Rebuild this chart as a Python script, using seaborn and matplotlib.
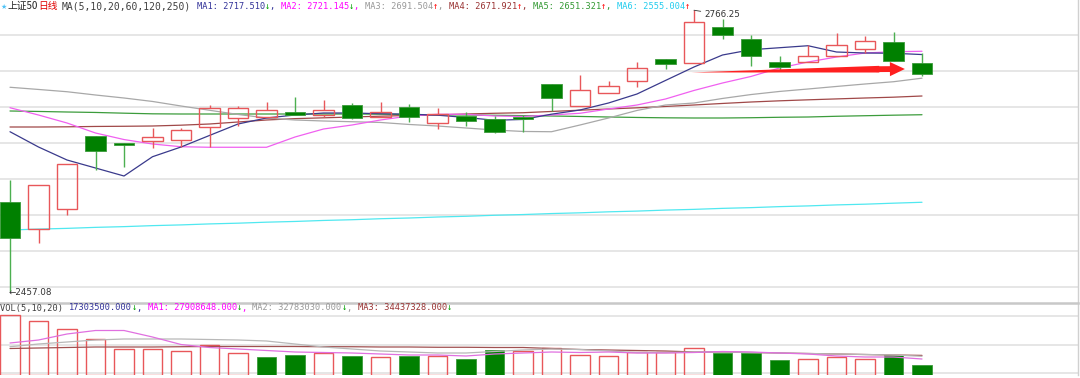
import numpy as np
import pandas as pd
import seaborn as sns
import matplotlib.pyplot as plt

# 上证50 daily candles (index points)
opens = [2555.0, 2525.6, 2547.6, 2627.9, 2620.5, 2622.4, 2623.2, 2638.1, 2647.4, 2648.5, 2654.6,
         2651.0, 2662.0, 2649.1, 2659.5, 2641.9, 2650.2, 2646.3, 2649.1, 2684.8, 2660.9, 2675.5,
         2688.4, 2712.6, 2707.9, 2748.1, 2734.6, 2709.6, 2709.0, 2715.9, 2723.9, 2731.0, 2708.5]
highs = [2579.5, 2574.0, 2596.8, 2627.9, 2620.5, 2636.4, 2637.0, 2662.0, 2661.2, 2665.6, 2671.1,
         2667.5, 2663.9, 2665.0, 2662.8, 2658.4, 2654.6, 2649.9, 2651.0, 2684.8, 2695.0, 2688.7,
         2709.6, 2712.6, 2766.25, 2756.6, 2739.0, 2715.9, 2728.0, 2740.9, 2738.2, 2742.6, 2718.9]
lows = [2457.08, 2510.2, 2541.0, 2590.5, 2594.1, 2614.4, 2615.5, 2615.5, 2638.9, 2648.5, 2651.0,
        2649.1, 2646.3, 2648.8, 2643.0, 2635.6, 2639.2, 2631.5, 2632.6, 2655.4, 2660.9, 2675.5,
        2681.5, 2701.3, 2707.9, 2734.6, 2705.2, 2700.5, 2709.0, 2715.9, 2718.9, 2710.7, 2693.9]
closes = [2516.0, 2574.0, 2596.8, 2611.7, 2618.3, 2627.1, 2634.2, 2658.4, 2659.0, 2656.5, 2651.0,
          2656.5, 2648.0, 2654.0, 2648.8, 2651.8, 2644.4, 2632.0, 2646.3, 2670.0, 2678.5, 2683.2,
          2702.4, 2707.1, 2753.0, 2739.3, 2715.9, 2703.5, 2716.2, 2728.0, 2732.7, 2710.7, 2696.1]

# moving averages MA(5,10,20,60,120,250)
ma1 = [2632.6, 2615.8, 2601.5, 2592.7, 2583.9, 2605.1, 2615.8, 2628.5, 2641.1, 2647.7, 2651.0,
       2653.2, 2653.2, 2652.4, 2651.9, 2650.8, 2648.3, 2645.2, 2646.1, 2651.9, 2656.5, 2664.2,
       2674.1, 2689.0, 2703.8, 2717.0, 2722.8, 2725.0, 2727.2, 2720.3, 2719.2, 2718.9, 2717.5]
ma2 = [2659.0, 2651.0, 2642.2, 2631.2, 2624.0, 2619.1, 2616.1, 2615.5, 2615.5, 2615.5, 2626.8,
       2635.6, 2640.0, 2645.5, 2649.9, 2651.8, 2651.8, 2649.9, 2649.4, 2651.0, 2652.9, 2657.6,
       2662.0, 2668.6, 2678.0, 2686.2, 2693.4, 2702.7, 2709.3, 2714.8, 2719.2, 2720.6, 2721.1]
ma3 = [2681.5, 2679.1, 2676.6, 2673.0, 2669.7, 2665.9, 2660.9, 2656.2, 2651.6, 2647.7, 2645.5,
       2644.4, 2643.6, 2642.8, 2640.6, 2638.9, 2636.7, 2634.5, 2632.9, 2632.6, 2640.0, 2647.7,
       2656.0, 2662.0, 2664.2, 2669.2, 2673.5, 2676.9, 2679.6, 2682.4, 2685.1, 2687.6, 2691.5]
ma4 = [2637.8, 2637.8, 2638.0, 2638.4, 2638.6, 2638.9, 2639.8, 2641.1, 2643.3, 2645.5, 2647.0,
       2647.9, 2648.8, 2649.7, 2650.5, 2651.2, 2652.1, 2652.9, 2653.5, 2654.9, 2656.3, 2657.6,
       2658.9, 2660.4, 2662.0, 2663.7, 2665.3, 2666.6, 2667.7, 2668.7, 2669.7, 2670.6, 2671.9]
ma5 = [2655.4, 2654.9, 2654.3, 2653.8, 2653.0, 2652.3, 2652.1, 2652.1, 2652.1, 2652.1, 2652.1,
       2652.1, 2652.1, 2651.9, 2651.6, 2651.2, 2651.0, 2650.7, 2650.3, 2649.9, 2649.4, 2648.8,
       2648.3, 2647.9, 2647.7, 2647.7, 2648.0, 2648.5, 2648.8, 2649.6, 2650.2, 2650.8, 2651.3]
ma6 = [2524.5, 2525.5, 2526.3, 2527.4, 2528.2, 2529.3, 2530.1, 2531.2, 2532.0, 2533.1, 2533.9,
       2535.0, 2535.8, 2536.9, 2537.7, 2538.8, 2539.6, 2540.7, 2541.5, 2542.6, 2543.4, 2544.5,
       2545.3, 2546.4, 2547.2, 2548.3, 2549.1, 2550.2, 2551.0, 2552.1, 2552.9, 2554.0, 2555.0]

# volume, millions of shares, and the colour each bar is drawn in
volumes = [108.0, 96.3, 81.9, 63.9, 46.8, 46.8, 43.2, 53.1, 39.4, 30.8, 35.1, 38.7, 33.3, 32.0,
           33.3, 33.8, 27.9, 45.0, 42.3, 48.1, 35.1, 33.3, 41.4, 41.4, 48.1, 38.7, 38.7, 26.5,
           28.3, 32.0, 27.9, 35.1, 17.3035]
vol_dir = ['u', 'u', 'u', 'u', 'u', 'u', 'u', 'u', 'u', 'd', 'd', 'u', 'd', 'u', 'd', 'u', 'd',
           'd', 'u', 'u', 'u', 'u', 'u', 'u', 'u', 'd', 'd', 'd', 'u', 'u', 'u', 'd', 'd']
vol_ma1 = [56.7, 62.1, 72.9, 79.2, 79.2, 67.5, 54.0, 48.6, 45.9, 43.2, 40.5, 39.6, 38.7, 36.9,
           35.1, 35.1, 33.3, 36.9, 38.7, 40.5, 39.6, 40.5, 38.7, 38.7, 39.6, 41.4, 40.5, 38.7,
           36.9, 33.3, 31.5, 31.5, 27.9]
vol_ma2 = [50.0, 54.9, 58.5, 62.1, 63.9, 63.9, 63.9, 63.0, 62.1, 60.3, 54.9, 49.5, 45.9, 42.3,
           40.5, 38.7, 38.7, 41.4, 44.1, 45.9, 45.0, 42.3, 39.6, 39.6, 40.5, 40.5, 39.6, 38.7,
           37.8, 36.9, 36.0, 35.1, 32.8]
vol_ma3 = [46.8, 47.7, 48.6, 49.5, 49.5, 49.5, 50.0, 50.4, 50.4, 50.4, 50.4, 50.0, 50.0, 49.5,
           49.5, 49.0, 49.0, 48.6, 48.6, 46.8, 45.0, 44.1, 43.2, 42.3, 40.5, 40.5, 39.6, 38.7,
           37.8, 36.9, 36.0, 35.1, 34.4]

price_grid = [2739.0, 2699.4, 2659.8, 2620.2, 2580.6, 2541.0, 2501.4, 2461.8]
vol_grid = [2.7, 54.0, 106.2]

# red arrow (index, price)
arrow_start = (23.9, 2697.8)
arrow_end = (31.4, 2701.6)

RED = '#e8575a'
GREEN = '#008000'
GREEN_WICK = '#4caf50'
MA_COLORS = ['#3a3a8c', '#f060f0', '#a8a8a8', '#a04848', '#3c9c3c', '#50e8f0']

df = pd.DataFrame({'idx': np.arange(len(closes)), 'open': opens, 'high': highs,
                   'low': lows, 'close': closes, 'vol': volumes})

sns.set_theme(style='white')
plt.rcParams['font.family'] = ['DejaVu Sans Mono', 'Noto Sans CJK SC', 'DejaVu Sans']

W, H = 1080, 378
fig = plt.figure(figsize=(W / 100, H / 100), dpi=100)
ax = fig.add_axes([0, 75 / H, 1078 / W, 303 / H])
axv = fig.add_axes([0, 3 / H, 1078 / W, 72 / H])

# MA lines
for vals, col in zip([ma6, ma5, ma4, ma3, ma2, ma1], MA_COLORS[::-1]):
    sns.lineplot(x=df['idx'], y=vals, ax=ax, color=col, lw=0.9, zorder=2)

# candles
bw = 0.72
for r in df.itertuples():
    top, bot = max(r.open, r.close), min(r.open, r.close)
    if r.close >= r.open:
        ax.vlines(r.idx, top, r.high, color=RED, lw=1.0, zorder=3)
        ax.vlines(r.idx, r.low, bot, color=RED, lw=1.0, zorder=3)
        ax.bar(r.idx, top - bot, bottom=bot, width=bw, facecolor='none',
               edgecolor=RED, lw=1.0, zorder=4)
    else:
        ax.vlines(r.idx, r.low, r.high, color=GREEN_WICK, lw=1.0, zorder=3)
        ax.bar(r.idx, top - bot, bottom=bot, width=bw, facecolor=GREEN,
               edgecolor='#3a9a3a', lw=0.6, zorder=4)

# red arrow: tapered shaft plus head
ax.annotate('', xy=arrow_start, xytext=(arrow_end[0] - 0.9, arrow_end[1] - 0.2),
            arrowprops=dict(arrowstyle='wedge,tail_width=0.4', color='#ff2020', lw=0,
                            shrinkA=0, shrinkB=0), zorder=5)
ax.annotate('', xy=arrow_end, xytext=(arrow_end[0] - 1.0, arrow_end[1] - 0.2),
            arrowprops=dict(arrowstyle='simple,head_length=0.9,head_width=0.85,tail_width=0.35',
                            color='#ff2020', lw=0, shrinkA=0, shrinkB=0), zorder=5)

# high / low labels
hi_i = int(np.argmax(highs))
ax.annotate(f'{highs[hi_i]:.2f}', xy=(hi_i, highs[hi_i]), xytext=(10, -4.5),
            textcoords='offset pixels', ha='left', va='center', fontsize=6.3,
            family='DejaVu Sans', color='#333333',
            arrowprops=dict(arrowstyle='-', color='#333333', lw=0.6, shrinkA=0, shrinkB=0))
lo_i = int(np.argmin(lows))
ax.annotate(f'←{lows[lo_i]:.2f}', xy=(lo_i, lows[lo_i]), xytext=(-1, -1.5),
            textcoords='offset pixels', ha='left', va='center', fontsize=6.3,
            family='DejaVu Sans', color='#333333')

# volume bars + MAs
for r, d in zip(df.itertuples(), vol_dir):
    if d == 'u':
        axv.bar(r.idx, r.vol, width=0.70, facecolor='none', edgecolor=RED, lw=1.0, zorder=3)
    else:
        axv.bar(r.idx, r.vol, width=0.70, facecolor=GREEN, edgecolor='#3a9a3a', lw=0.6, zorder=3)
for vals, col in zip([vol_ma3, vol_ma2, vol_ma1], ['#a05050', '#b8b8b8', '#e070e0']):
    sns.lineplot(x=df['idx'], y=vals, ax=axv, color=col, lw=0.9, zorder=4)

xlim = (-10 / 28.5, 1068 / 28.5)
for a, ylim, grid in [(ax, (2444.2, 2777.5), price_grid), (axv, (-0.9, 128.7), vol_grid)]:
    a.set_xlim(*xlim)
    a.set_ylim(*ylim)
    a.set_xticks([])
    a.set_yticks(grid)
    a.set_yticklabels([])
    a.tick_params(length=0)
    a.yaxis.grid(True, color='#e6e6e6', lw=1.4)
    a.set_xlabel('')
    a.set_ylabel('')
    for s in ['left', 'bottom', 'top']:
        a.spines[s].set_visible(False)
    a.spines['right'].set_color('#d0d0d0')
    a.spines['right'].set_linewidth(1.0)
axv.spines['top'].set_visible(True)
axv.spines['top'].set_color('#c8c8c8')
axv.spines['top'].set_linewidth(1.8)

# header texts, laid out piece by piece
renderer = fig.canvas.get_renderer()


def draw_pieces(x_px, y_px, pieces, size):
    x = x_px
    for s, c in pieces:
        t = fig.text(x / W, 1 - y_px / H, s, color=c, ha='left', va='center', fontsize=size)
        x += t.get_window_extent(renderer=renderer).width
    return x


GR, RD = '#00a000', '#ff0000'
fig.text(0.5 / W, 1 - 6.5 / H, '★', color='#4fc3f7', ha='left', va='center', fontsize=5,
         family=['DejaVu Sans'])
fig.text(8 / W, 1 - 6.5 / H, '上证50', color='#222222', ha='left', va='center', fontsize=7,
         family=['Noto Sans CJK SC', 'DejaVu Sans'])
fig.text(38.5 / W, 1 - 6.5 / H, '日线', color='#e00000', ha='left', va='center', fontsize=7,
         family=['Noto Sans CJK SC', 'DejaVu Sans'])
fig.text(62 / W, 1 - 6.5 / H, 'MA(5,10,20,60,120,250)', color='#404040', ha='left',
         va='center', fontsize=7.0)
ma_vals = [2717.510, 2721.145, 2691.504, 2671.921, 2651.321, 2555.004]
ma_up = [False, False, True, True, True, True]
ma_txt = ['#333399', '#ff00ff', '#999999', '#993333', '#339933', '#22ccee']
pieces = []
for k, (v, up, c) in enumerate(zip(ma_vals, ma_up, ma_txt)):
    pieces.append((f'MA{k + 1}: {v:.3f}', c))
    pieces.append(('↑' if up else '↓', RD if up else GR))
    if k < 5:
        pieces.append((', ', c))
draw_pieces(197, 6.5, pieces, 6.2)

vol_vals = [27908648.000, 32783030.000, 34437328.000]
vol_txt = ['#ff00ff', '#999999', '#993333']
vpieces = [('VOL(5,10,20) ', '#404040'), (f'{volumes[-1] * 1e6:.3f}', '#333399'), ('↓', GR),
           (', ', '#333399')]
for k, (v, c) in enumerate(zip(vol_vals, vol_txt)):
    vpieces.append((f'MA{k + 1}: {v:.3f}', c))
    vpieces.append(('↓', GR))
    if k < 2:
        vpieces.append((', ', c))
draw_pieces(0.5, 308, vpieces, 6.2)

fig.savefig('out.png', dpi=100, facecolor='white')
